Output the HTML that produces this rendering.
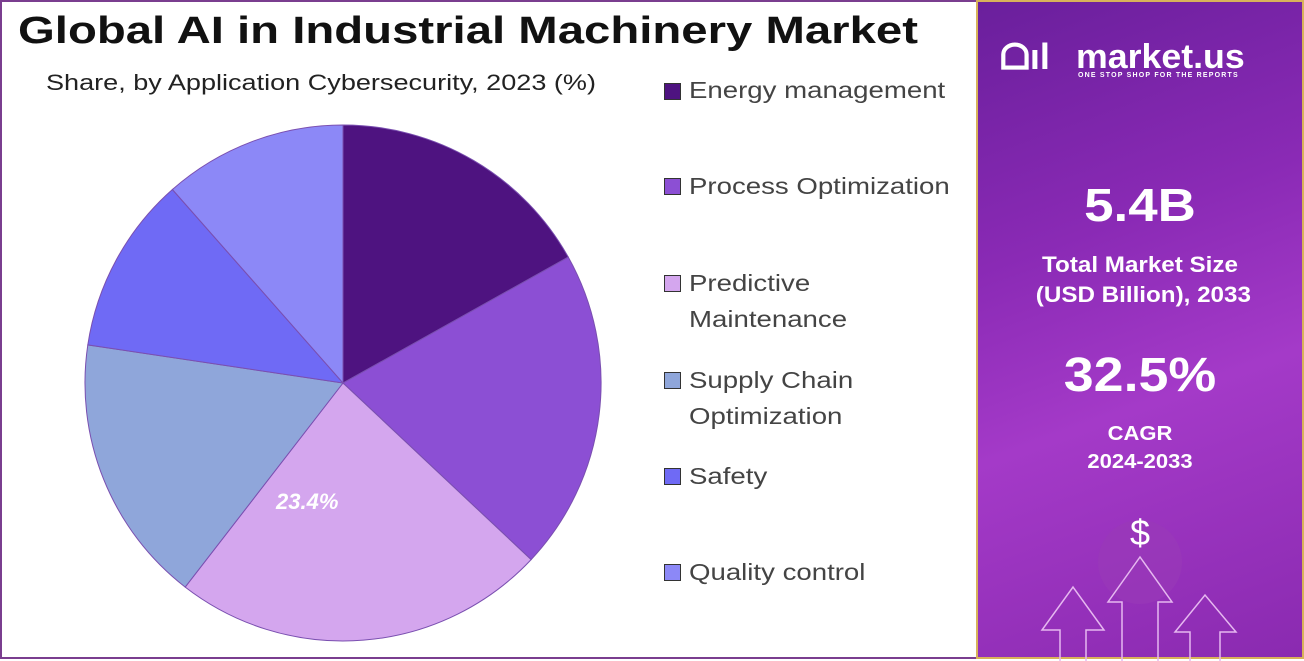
<!DOCTYPE html>
<html><head><meta charset="utf-8"><style>
body{margin:0;width:1304px;height:659px;overflow:hidden;background:#fff;font-family:"Liberation Sans",sans-serif;position:relative}
.frame{position:absolute;left:0;top:0;width:974px;height:655px;border:2px solid #7a3d8f;border-right:none}
.t{position:absolute;white-space:nowrap}
.s{transform-origin:0 0}
.lg{position:absolute;left:664px;width:17px;height:17px;border:1px solid #333;box-sizing:border-box}
.lt{position:absolute;left:689px;font-size:23px;color:#444;line-height:36px;transform:scaleX(1.2);transform-origin:0 0;white-space:nowrap}
.rp{position:absolute;left:976px;top:0;width:328px;height:659px;background:linear-gradient(160deg,#6a1f9c 0%,#8a2ab5 35%,#a43ac8 60%,#8a2ab0 100%);border:2px solid #d8b25a;box-sizing:border-box;color:#fff;text-align:center}
</style></head><body>
<div class="frame"></div>
<div class="t s" style="left:18px;top:10px;font-size:38px;font-weight:bold;color:#111;transform:scaleX(1.245)">Global AI in Industrial Machinery Market</div>
<div class="t s" style="left:46px;top:70px;font-size:22px;color:#222;transform:scaleX(1.23)">Share, by Application Cybersecurity, 2023 (%)</div>
<svg style="position:absolute;left:0;top:0" width="976" height="659">
<g stroke="#7a4fb0" stroke-width="1">
<path d="M343,383 L343,125 A258,258 0 0 1 568.3,257.1 Z" fill="#4e1380"/>
<path d="M343,383 L568.3,257.1 A258,258 0 0 1 531.1,559.6 Z" fill="#8c4fd4"/>
<path d="M343,383 L531.1,559.6 A258,258 0 0 1 185.2,587.1 Z" fill="#d4a6ee"/>
<path d="M343,383 L185.2,587.1 A258,258 0 0 1 87.8,344.9 Z" fill="#8fa6da"/>
<path d="M343,383 L87.8,344.9 A258,258 0 0 1 172.4,189.5 Z" fill="#6f6af5"/>
<path d="M343,383 L172.4,189.5 A258,258 0 0 1 343,125 Z" fill="#8c88f7"/>
</g>
<text x="276" y="509" font-size="22" font-style="italic" font-weight="bold" fill="#fff" font-family="Liberation Sans">23.4%</text>
</svg>
<div class="lg" style="top:83px;background:#4e1380"></div><div class="lt" style="top:72px">Energy management</div>
<div class="lg" style="top:178px;background:#8c4fd4"></div><div class="lt" style="top:168px">Process Optimization</div>
<div class="lg" style="top:275px;background:#d4a6ee"></div><div class="lt" style="top:265px">Predictive<br>Maintenance</div>
<div class="lg" style="top:372px;background:#8fa6da"></div><div class="lt" style="top:362px">Supply Chain<br>Optimization</div>
<div class="lg" style="top:468px;background:#6f6af5"></div><div class="lt" style="top:458px">Safety</div>
<div class="lg" style="top:564px;background:#8c88f7"></div><div class="lt" style="top:554px">Quality control</div>
<div class="rp">
<svg style="position:absolute;left:0;top:0" width="324" height="659" fill="none" stroke="#e6b8f0" stroke-width="1.5">
<circle cx="162" cy="560" r="42" fill="#9a3ab8" stroke="none" opacity="0.6"/>
<path d="M82,659 V628 H64 L95,585 L126,628 H108 V659"/>
<path d="M144,659 V600 H130 L162,555 L194,600 H180 V659"/>
<path d="M212,659 V630 H197 L227,593 L258,630 H242 V659"/>
</svg>
<div class="t" style="left:22px;top:34px;font-size:36px;font-weight:bold">ᗝıl</div>
<div class="t s" style="left:98px;top:36px;font-size:34px;font-weight:bold;transform:scaleX(1.05)">market.us</div>
<div class="t" style="left:100px;top:70px;font-size:7px;font-weight:bold;letter-spacing:1.2px">ONE STOP SHOP FOR THE REPORTS</div>
<div class="t" style="left:0;width:324px;top:176px;font-size:46px;font-weight:bold;transform:scaleX(1.15)">5.4B</div>
<div class="t" style="left:0;width:324px;top:248px;font-size:22px;font-weight:bold;line-height:30px;transform:scaleX(1.1)">Total Market Size<br>&nbsp;(USD Billion), 2033</div>
<div class="t" style="left:0;width:324px;top:346px;font-size:48px;font-weight:bold;transform:scaleX(1.12)">32.5%</div>
<div class="t" style="left:0;width:324px;top:418px;font-size:20px;font-weight:bold;line-height:28px;transform:scaleX(1.1)">CAGR<br>2024-2033</div>
<div class="t" style="left:0;width:324px;top:510px;font-size:36px">$</div>
</div>
</body></html>
